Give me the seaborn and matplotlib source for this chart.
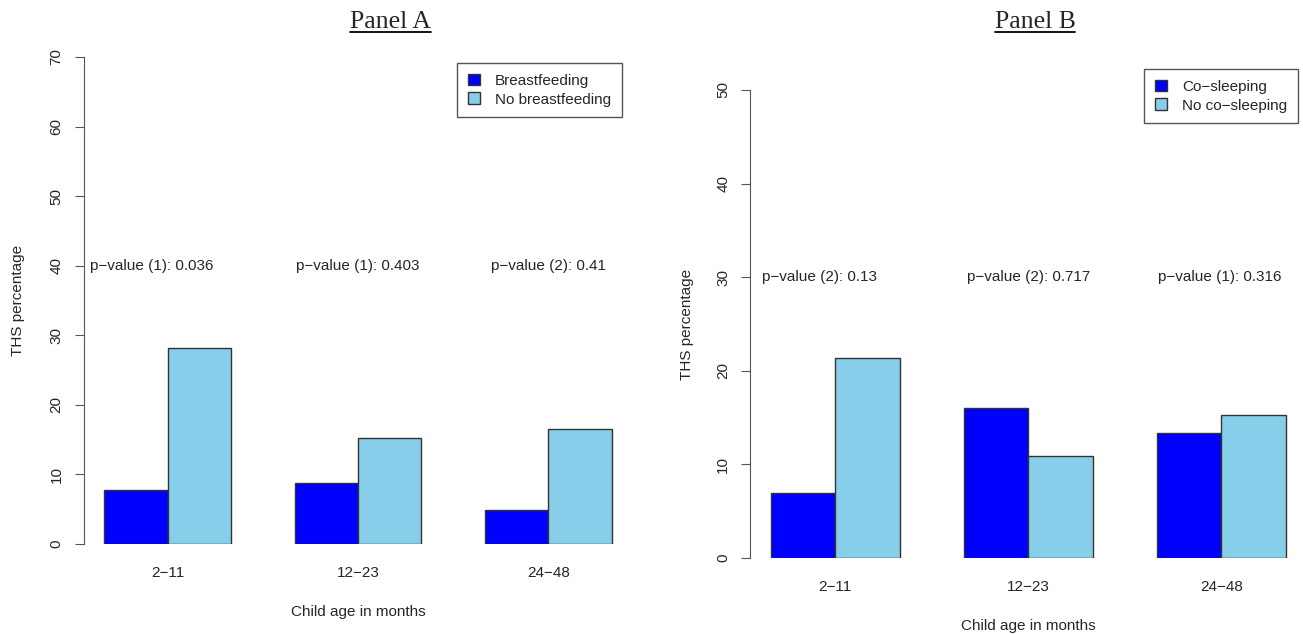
import pandas as pd
import numpy as np
import matplotlib
matplotlib.use('Agg')
import matplotlib.pyplot as plt
from matplotlib.lines import Line2D
import seaborn as sns

sns.set_style('white')
plt.rcParams['font.family'] = ['Liberation Sans', 'DejaVu Sans']

# data
age_groups = ['2\u221211', '12\u221223', '24\u221248']

groups_a = ['Breastfeeding', 'No breastfeeding']
bf_yes = [7.8, 8.8, 4.9]
bf_no = [28.2, 15.2, 16.5]
pvals_a = ['p\u2212value (1): 0.036', 'p\u2212value (1): 0.403', 'p\u2212value (2): 0.41']

groups_b = ['Co\u2212sleeping', 'No co\u2212sleeping']
cs_yes = [6.9, 16.0, 13.35]
cs_no = [21.35, 10.9, 15.3]
pvals_b = ['p\u2212value (2): 0.13', 'p\u2212value (2): 0.717', 'p\u2212value (1): 0.316']

colors = ['#0000FF', '#87CEEB']
W, H = 1303, 634
FS = 11


def long_frame(yes, no, labels):
    return pd.DataFrame({
        'age': age_groups * 2,
        'pct': yes + no,
        'group': [labels[0]] * 3 + [labels[1]] * 3,
    })


fig = plt.figure(figsize=(W / 100, H / 100), dpi=100)


def panel(rect, df, labels, ymax, pvals, pval_y, pval_dx, ylab_x, leg_anchor):
    ax = fig.add_axes(rect)
    sns.barplot(data=df, x='age', y='pct', hue='group', hue_order=labels,
                palette=colors, saturation=1, width=2 / 3, edgecolor='#333333',
                linewidth=1, errorbar=None, ax=ax)
    ax.set_xlim(-0.44, 2.44)
    ax.set_ylim(0, ymax)
    ax.set_yticks(np.arange(0, ymax + 1, 10))
    for s in ['top', 'right', 'bottom']:
        ax.spines[s].set_visible(False)
    ax.spines['left'].set_color('#555555')
    ax.tick_params(axis='y', direction='out', length=6.5, color='#555555',
                   labelsize=FS, left=True, pad=8)
    for lab in ax.get_yticklabels():
        lab.set_rotation(90)
        lab.set_va('center')
    ax.tick_params(axis='x', length=0, labelsize=FS, pad=15.5)
    ax.set_xlabel('Child age in months', fontsize=FS, labelpad=18)
    ax.set_ylabel('THS percentage', fontsize=FS)
    ax.yaxis.set_label_coords(ylab_x, 0.5)
    for i, (t, dx) in enumerate(zip(pvals, pval_dx)):
        ax.text(i + dx, pval_y, t, ha='center', va='center', fontsize=FS)
    handles, _ = ax.get_legend_handles_labels()
    ax.legend(handles, labels, loc='upper right', bbox_to_anchor=leg_anchor,
              bbox_transform=fig.transFigure, fontsize=FS, frameon=True,
              fancybox=False, framealpha=1, edgecolor='#555555',
              handlelength=0.8, handleheight=0.8, handletextpad=1.0,
              borderpad=0.7, labelspacing=0.3, borderaxespad=0)
    ax.get_legend().get_frame().set_linewidth(1)
    return ax


panel([83.7 / W, 1 - 544 / H, 548.6 / W, 487 / H],
      long_frame(bf_yes, bf_no, groups_a), groups_a, 70, pvals_a, 40,
      [-0.084, 0, 0], -0.107, (622 / W, 1 - 63 / H))
panel([750.4 / W, 1 - 558 / H, 556 / W, 468 / H],
      long_frame(cs_yes, cs_no, groups_b), groups_b, 50, pvals_b, 30,
      [-0.083, 0, -0.01], -0.102, (1298 / W, 1 - 69 / H))

renderer = fig.canvas.get_renderer()
for x, s in [(390, 'Panel A'), (1035, 'Panel B')]:
    t = fig.text(x / W, 1 - 22 / H, s, ha='center', va='center', fontsize=18.5,
                 family='Liberation Serif')
    bb = t.get_window_extent(renderer).transformed(fig.transFigure.inverted())
    fig.add_artist(Line2D([bb.x0, bb.x1], [bb.y0 + 0.002] * 2, color='black',
                          lw=1.3, transform=fig.transFigure))

fig.savefig('out.png', dpi=100)
